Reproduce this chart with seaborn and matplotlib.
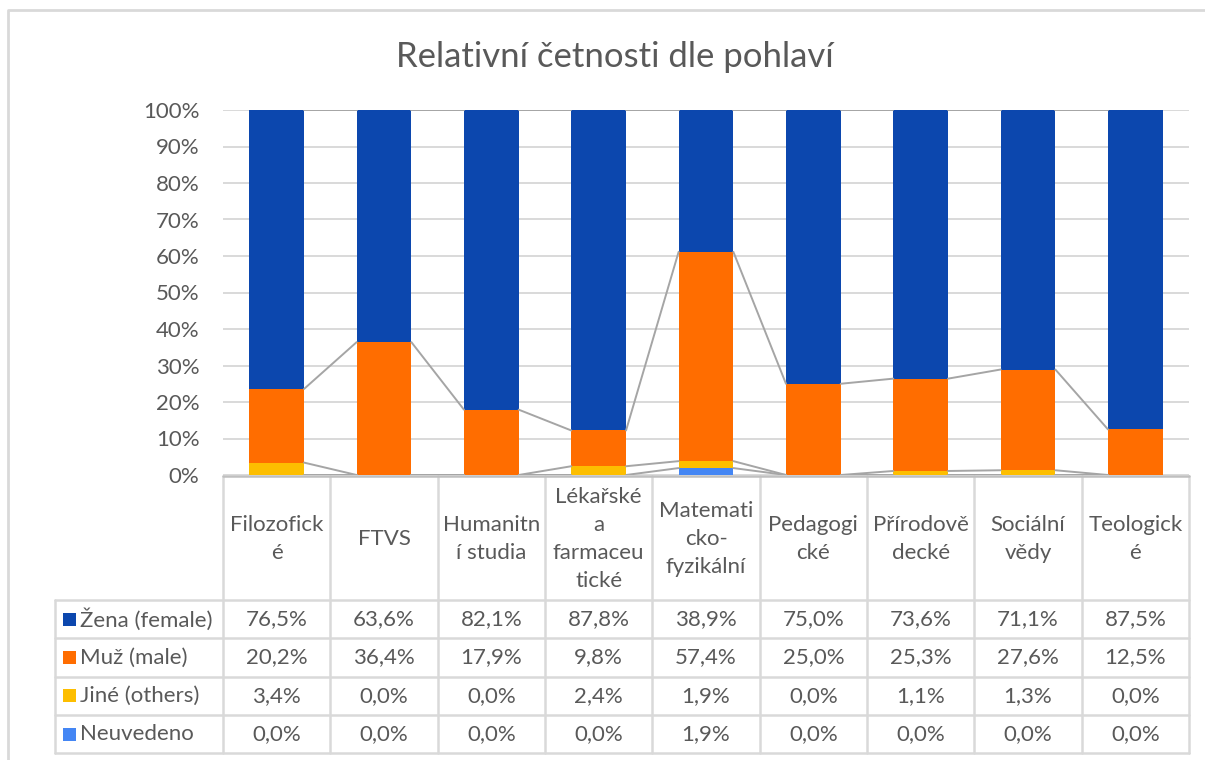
import numpy as np
import pandas as pd

import matplotlib.pyplot as plt
import seaborn as sns
from matplotlib.patches import Rectangle

# data
faculties = [
    "Filozofick\né", "FTVS", "Humanitn\ní studia",
    "Lékařské\na\nfarmaceu\ntické", "Matemati\ncko-\nfyzikální",
    "Pedagogi\ncké", "Přírodově\ndecké", "Sociální\nvědy", "Teologick\né"
]
series_names = ["Žena (female)", "Muž (male)", "Jiné (others)", "Neuvedeno"]
zena = [76.5, 63.6, 82.1, 87.8, 38.9, 75.0, 73.6, 71.1, 87.5]
muz = [20.2, 36.4, 17.9, 9.8, 57.4, 25.0, 25.3, 27.6, 12.5]
jine = [3.4, 0.0, 0.0, 2.4, 1.9, 0.0, 1.1, 1.3, 0.0]
neuvedeno = [0.0, 0.0, 0.0, 0.0, 1.9, 0.0, 0.0, 0.0, 0.0]
colors = ["#0C47AE", "#FF6D00", "#FDBE00", "#4486F4"]

# ==========================================
# STYLE
# ==========================================

sns.set_theme(style="white")
plt.rcParams["font.family"] = ["Lato", "DejaVu Sans"]

TXT = "#595959"
GRID = "#d9d9d9"
FS = 16

W, H = 1205, 760
fig = plt.figure(figsize=(W / 100, H / 100), dpi=100)

x0, x1 = 223, 1189
y_top, y_bot = 110, 475

ax = fig.add_axes([x0 / W, 1 - y_bot / H, (x1 - x0) / W, (y_bot - y_top) / H])

# ==========================================
# STACKED BARS (100 %)
# ==========================================

stack = np.array([neuvedeno, jine, muz, zena])
total = stack.sum(axis=0)
cum = np.cumsum(stack, axis=0) / total  # bottom -> top

df = pd.DataFrame({"faculty": faculties})

bar_w = 0.51
# draw from the top level down so each series overlays the one above
for level, color in zip(range(3, -1, -1), colors):
    df["share"] = cum[level]
    sns.barplot(
        data=df,
        x="faculty",
        y="share",
        color=color,
        width=bar_w,
        saturation=1,
        linewidth=0,
        ax=ax,
        zorder=3
    )

# series lines between neighbouring bars
for level in range(4):
    for i in range(len(faculties) - 1):
        ax.plot(
            [i + bar_w / 2, i + 1 - bar_w / 2],
            [cum[level][i], cum[level][i + 1]],
            color="#a5a5a5",
            lw=1.4,
            zorder=4
        )

ax.set_xlim(-0.5, len(faculties) - 0.5)
ax.set_ylim(0, 1)
ax.set_yticks(np.arange(0, 1.01, 0.1))
ax.set_yticklabels([f"{int(round(v * 100))}%" for v in np.arange(0, 1.01, 0.1)])
ax.tick_params(axis="y", colors=TXT, labelsize=FS, length=0, pad=17)
ax.tick_params(axis="x", labelbottom=False, length=0)
ax.set_xlabel("")
ax.set_ylabel("")
ax.grid(axis="y", color=GRID, lw=1.4, zorder=0)
for s in ax.spines.values():
    s.set_visible(False)
ax.set_axisbelow(True)

# ==========================================
# DATA TABLE
# ==========================================

tab = fig.add_axes([0, 0, 1, 1], zorder=-1)
tab.set_xlim(0, W)
tab.set_ylim(H, 0)
tab.axis("off")

n = len(faculties)
col_w = (x1 - x0) / n
head_top, head_bot = 476, 600
row_h = 38.3
leg_x = 55
tab_bottom = head_bot + 4 * row_h

lc = dict(color=GRID, lw=1.8)

# vertical lines
for k in range(n + 1):
    xx = x0 + k * col_w
    tab.plot([xx, xx], [head_top, tab_bottom], **lc)
tab.plot([leg_x, leg_x], [head_bot, tab_bottom], **lc)

# horizontal lines
tab.plot([x0, x1], [head_top, head_top], color="#bfbfbf", lw=1.8)
for r in range(5):
    yy = head_bot + r * row_h
    tab.plot([leg_x, x1], [yy, yy], **lc)

# header
for k, name in enumerate(faculties):
    tab.text(
        x0 + (k + 0.5) * col_w, (head_top + head_bot) / 2 + 1, name,
        ha="center", va="center", fontsize=FS, color=TXT,
        linespacing=1.52
    )

# rows
series_vals = [zena, muz, jine, neuvedeno]
for r, (name, vals, color) in enumerate(zip(series_names, series_vals, colors)):
    yc = head_bot + (r + 0.5) * row_h
    tab.add_patch(Rectangle((63, yc - 6.5), 13, 13, color=color, lw=0))
    tab.text(80, yc, name, ha="left", va="center", fontsize=FS, color=TXT)
    for k, v in enumerate(vals):
        tab.text(
            x0 + (k + 0.5) * col_w, yc,
            f"{v:.1f}%".replace(".", ","),
            ha="center", va="center", fontsize=FS, color=TXT
        )

# chart border
tab.plot([8, 8, W], [H, 10, 10], color=GRID, lw=2)

# title
fig.text(
    615 / W, 1 - 57 / H,
    "Relativní četnosti dle pohlaví",
    ha="center", va="center", fontsize=25, color=TXT
)

fig.savefig("out.png", dpi=100)
plt.close()
